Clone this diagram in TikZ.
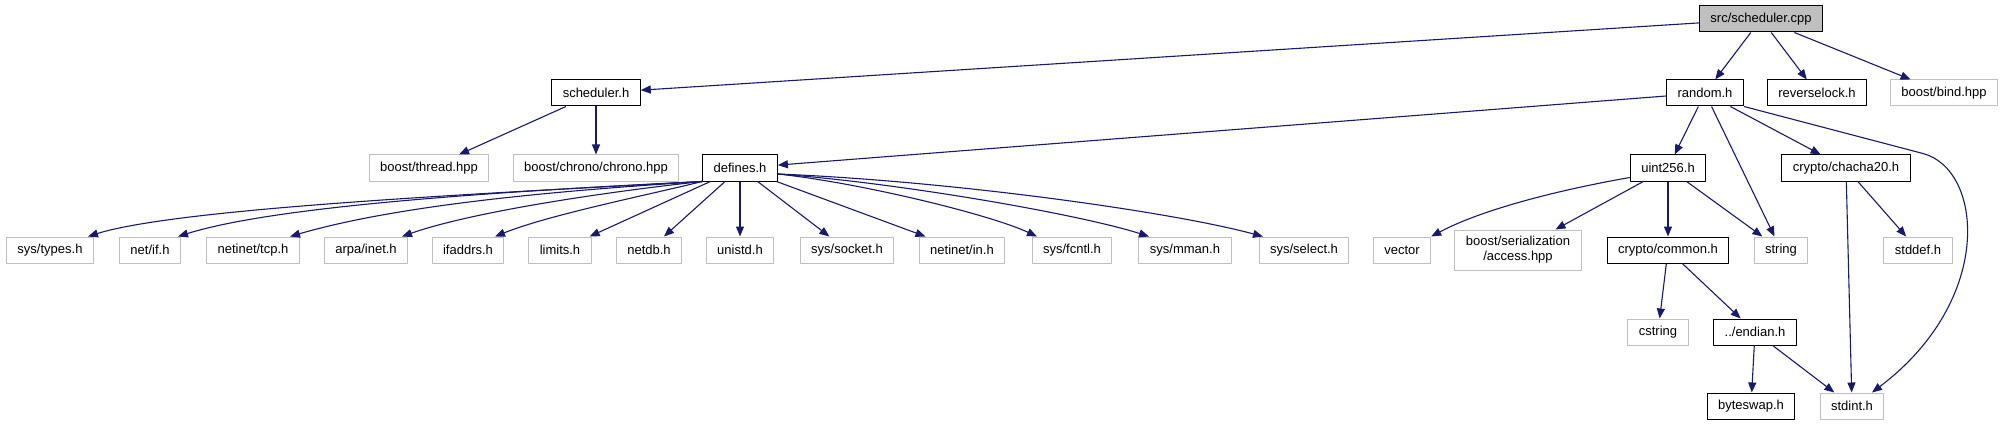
\documentclass[tikz,border=0pt]{standalone}
\usepackage{fontspec}
\setmainfont{Liberation Sans}
\usetikzlibrary{arrows.meta,positioning}
\definecolor{depblue}{HTML}{191970}
\definecolor{extgrey}{HTML}{BFBFBF}
\begin{document}
\begin{tikzpicture}[x=1pt,y=-1pt,line join=round,
		hdr/.style={draw=black,line width=1pt,fill=white,inner xsep=11pt,inner ysep=0pt,minimum height=26pt,font=\fontsize{13}{15}\selectfont},
		ext/.style={hdr,draw=extgrey},
		dep/.style={draw=depblue,line width=1.1pt,-{Triangle[length=10pt,width=8pt]}}]
			\useasboundingbox (0,0) rectangle (2003,425);
			\node[hdr,fill=extgrey] (cpp) at (1761,19) {src/scheduler.cpp};
			\node[hdr] (sched) at (596,93) {scheduler.h};
			\node[hdr] (rnd) at (1705,93) {random.h};
			\node[hdr] (rev) at (1817,93) {reverselock.h};
			\node[ext] (bind) at (1944,93) {boost/bind.hpp};
			\node[ext] (thread) at (429,168) {boost/thread.hpp};
			\node[ext] (chrono) at (596,168) {boost/chrono/chrono.hpp};
			\node[hdr] (def) at (740,168) {defines.h};
			\node[hdr] (uint) at (1668,168) {uint256.h};
			\node[hdr] (chacha) at (1846,168) {crypto/chacha20.h};
			\foreach \n/\x/\t in {types/50/{sys/types.h}, netif/150/{net/if.h}, tcp/253/{netinet/tcp.h}, arpa/366/{arpa/inet.h}, ifaddrs/468/{ifaddrs.h}, limits/560/{limits.h}, netdb/649/{netdb.h}, unistd/740/{unistd.h}, socket/847/{sys/socket.h}, netin/962/{netinet/in.h}, fcntl/1072/{sys/fcntl.h}, mman/1185/{sys/mman.h}, select/1304/{sys/select.h}, vec/1402/{vector}, str/1781/{string}, stddef/1918/{stddef.h}}
			\node[ext] (\n) at (\x,250) {\t};
			\node[ext,align=center,minimum height=40pt] (access) at (1518,250) {boost/serialization\\/access.hpp};
			\node[hdr] (common) at (1668,250) {crypto/common.h};
			\node[ext] (cstring) at (1658,332) {cstring};
			\node[hdr] (endian) at (1755,332) {../endian.h};
			\node[hdr] (byteswap) at (1751,406) {byteswap.h};
			\node[ext] (stdint) at (1852,406) {stdint.h};
			\foreach \a/\b in {cpp/sched, cpp/rnd, cpp/rev, cpp/bind, sched/thread, sched/chrono, rnd/def, rnd/uint, rnd/str, rnd/chacha, def/limits, def/netdb, def/unistd, def/socket, def/netin, uint/access, uint/common, uint/str, chacha/stdint, chacha/stddef, common/cstring, common/endian, endian/byteswap, endian/stdint}
			\draw[dep] (\a) -- (\b);
			\foreach \n/\dx/\ax/\ay/\bx/\by in {types/38/-200/11/92/-29, netif/28/-182/9/102/-32, tcp/37/-142/9/110/-32, arpa/36/-102/11/68/-24, ifaddrs/27/-52/13/55/-22}
			\draw[dep] (def.south west) .. controls +(\ax,\ay) and +(\bx,\by) .. ([xshift=\dx pt]\n.north);
			\foreach \n/\dx/\ax/\ay/\bx/\by in {fcntl/-35/83/9/-47/-22, mman/-36/123/9/-69/-22, select/-41/173/7/-93/-25}
			\draw[dep] ([yshift=-6pt]def.east) .. controls +(\ax,\ay) and +(\bx,\by) .. ([xshift=\dx pt]\n.north);
			\draw[dep] ([yshift=4pt]uint.south west) .. controls +(-85,15) and +(45,-24) .. (vec.north east);
			\draw[dep] (rnd.south east) -- ++(179,47) .. controls +(60,16) and +(123,-93) .. ([xshift=20pt]stdint.north);
		\end{tikzpicture}
\end{document}
